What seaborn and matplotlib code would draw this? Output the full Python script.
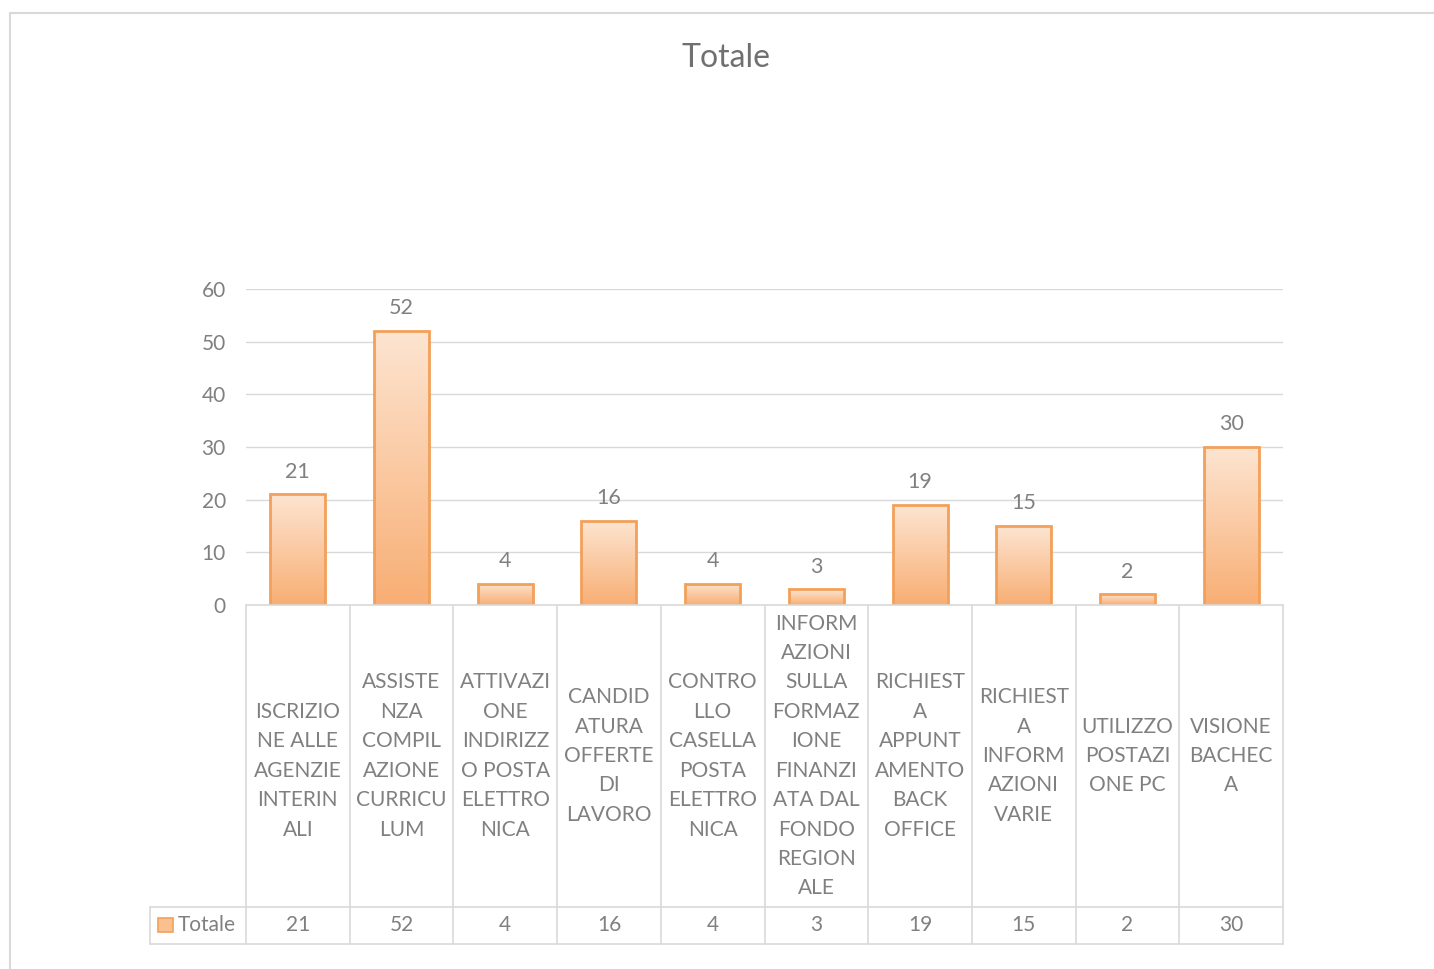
import numpy as np
import pandas as pd
import matplotlib
matplotlib.use("Agg")
import matplotlib.pyplot as plt
import seaborn as sns
from matplotlib.colors import LinearSegmentedColormap
from matplotlib.lines import Line2D
from matplotlib.patches import Rectangle

# ---------------- data ----------------
categories = [
    "\nISCRIZIO\nNE ALLE\nAGENZIE\nINTERIN\nALI",
    "ASSISTE\nNZA\nCOMPIL\nAZIONE\nCURRICU\nLUM",
    "ATTIVAZI\nONE\nINDIRIZZ\nO POSTA\nELETTRO\nNICA",
    "CANDID\nATURA\nOFFERTE\nDI\nLAVORO",
    "CONTRO\nLLO\nCASELLA\nPOSTA\nELETTRO\nNICA",
    "INFORM\nAZIONI\nSULLA\nFORMAZ\nIONE\nFINANZI\nATA DAL\nFONDO\nREGION\nALE",
    "RICHIEST\nA\nAPPUNT\nAMENTO\nBACK\nOFFICE",
    "RICHIEST\nA\nINFORM\nAZIONI\nVARIE",
    "UTILIZZO\nPOSTAZI\nONE PC",
    "VISIONE\nBACHEC\nA",
]
values = [21, 52, 4, 16, 4, 3, 19, 15, 2, 30]
series_name = "Totale"
y_ticks = [0, 10, 20, 30, 40, 50, 60]

df = pd.DataFrame({"cat": [f"c{i}" for i in range(len(values))], "val": values})

# ---------------- style ----------------
sns.set_theme(style="white")
plt.rcParams["font.family"] = ["Lato", "DejaVu Sans"]
TXT = "#808080"
GRID = "#d9d9d9"
EDGE = "#f2a05a"
FS = 15

W, H = 1434, 969
fig = plt.figure(figsize=(W / 100, H / 100), dpi=100)
fig.patch.set_facecolor("white")

def fx(px):
    return px / W

def fy(py):
    return 1 - py / H

# outer chart border
fig.add_artist(Line2D([fx(10), 1], [fy(13), fy(13)], color=GRID, lw=1.5, transform=fig.transFigure))
fig.add_artist(Line2D([fx(10), fx(10)], [fy(13), 0], color=GRID, lw=1.5, transform=fig.transFigure))

fig.text(fx(726), fy(58), "Totale", ha="center", va="center", fontsize=23, color="#707070")

# ---------------- main axes ----------------
L, R, T, B = 246, 1283, 289, 605
ax = fig.add_axes([fx(L), fy(B), fx(R - L), (B - T) / H])
sns.barplot(data=df, x="cat", y="val", ax=ax, color="#fbd0ac", width=0.53,
            edgecolor=EDGE, linewidth=2, saturation=1)
ax.set_xlim(-0.5, len(values) - 0.5)
ax.set_ylim(0, 60)
ax.set_yticks(y_ticks)
ax.set_yticklabels([str(t) for t in y_ticks], color=TXT, fontsize=FS)
ax.tick_params(axis="y", length=0, pad=14.5)
ax.set_xticks([])
ax.set_xlabel("")
ax.set_ylabel("")
for s in ax.spines.values():
    s.set_visible(False)
ax.grid(axis="y", color=GRID, lw=1)
ax.set_axisbelow(True)
ax.patch.set_alpha(0)

# gradient fill for bars
cmap = LinearSegmentedColormap.from_list("g", ["#f8ae74", "#fde5d1"])
grad = np.linspace(0, 1, 256).reshape(-1, 1)
for p in ax.patches:
    x0, y0 = p.get_x(), p.get_y()
    w, h = p.get_width(), p.get_height()
    im = ax.imshow(grad, cmap=cmap, aspect="auto", origin="lower",
                   extent=[x0, x0 + w, y0, y0 + h], zorder=p.get_zorder() - 0.1)
    im.set_clip_path(p)
    p.set_facecolor("none")
    ax.text(x0 + w / 2, y0 + h + 2.4, f"{int(h)}", ha="center", va="bottom",
            fontsize=FS + 0.5, color=TXT)
ax.set_xlim(-0.5, len(values) - 0.5)
ax.set_ylim(0, 60)

# ---------------- data table ----------------
TB1, TB2, LEG = 907, 944, 150
tax = fig.add_axes([fx(LEG), fy(TB2), fx(R - LEG), (TB2 - B) / H])
col_w = (R - L) / len(values)
tax.set_xlim(-0.5 - (L - LEG) / col_w, len(values) - 0.5)
tax.set_ylim(TB2, B)
tax.axis("off")

lkw = dict(color=GRID, lw=1.2, clip_on=False)
tax.plot([-0.5, len(values) - 0.5], [B, B], **lkw)
tax.plot([tax.get_xlim()[0], len(values) - 0.5], [TB1, TB1], **lkw)
tax.plot([tax.get_xlim()[0], len(values) - 0.5], [TB2, TB2], **lkw)
tax.plot([tax.get_xlim()[0]] * 2, [TB1, TB2], **lkw)
for i in range(len(values) + 1):
    tax.plot([i - 0.5, i - 0.5], [B, TB2], **lkw)

for i, (lab, v) in enumerate(zip(categories, values)):
    tax.text(i, (B + TB1) / 2, lab, ha="center", va="center", fontsize=FS,
             color=TXT, linespacing=1.59)
    tax.text(i, (TB1 + TB2) / 2, str(v), ha="center", va="center", fontsize=FS, color=TXT)

# legend key
x_leg0 = tax.get_xlim()[0]
kx = x_leg0 + 8 / col_w
tax.add_patch(Rectangle((kx, (TB1 + TB2) / 2 + 7), 15 / col_w, -14, facecolor="#fbc08f",
                        edgecolor=EDGE, lw=1.2, clip_on=False))
tax.text(kx + 20 / col_w, (TB1 + TB2) / 2, series_name, ha="left", va="center",
         fontsize=FS, color=TXT)

fig.savefig("out.png", dpi=100, facecolor="white")
